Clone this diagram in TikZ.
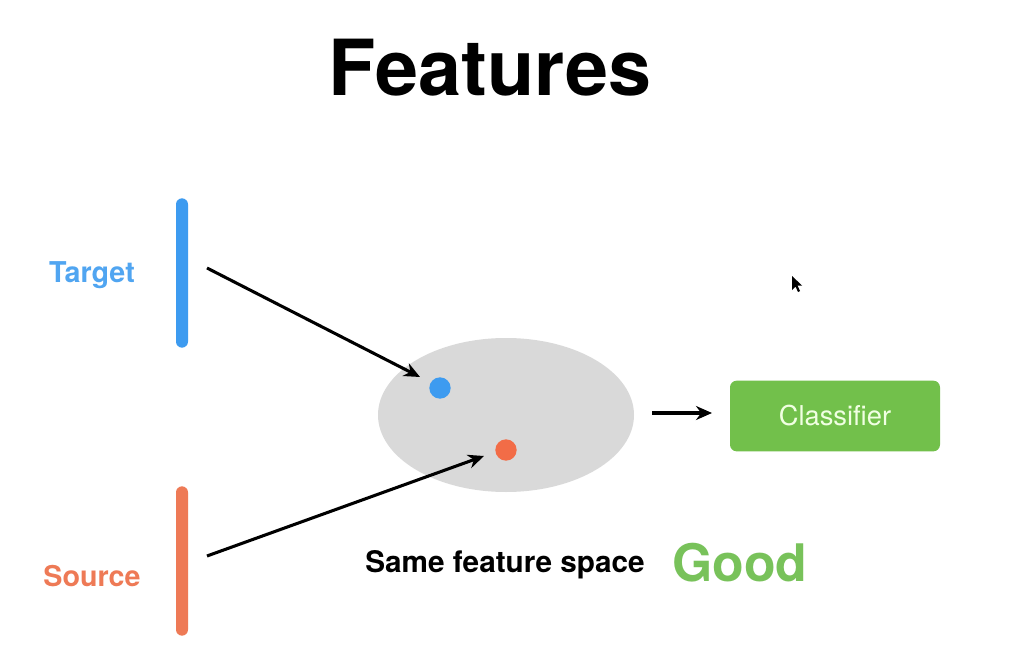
\documentclass[tikz,border=0pt]{standalone}
\usepackage{fontspec}
\setmainfont{TeX Gyre Heros}
\usetikzlibrary{arrows.meta,shapes.geometric}
\definecolor{tblue}{HTML}{3D9BF0}
\definecolor{sorange}{HTML}{EE7A56}
\definecolor{dorange}{HTML}{F26C47}
\definecolor{boxgreen}{HTML}{72C04B}
\definecolor{goodgreen}{HTML}{78C25A}
\definecolor{clstext}{HTML}{F0FFE2}
\definecolor{cloud}{HTML}{D9D9D9}
\tikzset{
  bar/.style={rounded corners=4.5pt, minimum width=9pt, minimum height=112pt, inner sep=0pt},
  lbl/.style={font=\bfseries\fontsize{21.5}{24}\selectfont, inner sep=0pt},
  conn/.style={line width=2.3pt, -{Stealth[length=12pt,width=10.5pt]}},
  dot/.style={circle, minimum size=16pt, inner sep=0pt},
}
\begin{document}
\begin{tikzpicture}[x=0.75pt,y=-0.75pt]
\useasboundingbox[fill=white] (0,0) rectangle (1022,667);
% title
\node[inner sep=0pt, font=\bfseries\fontsize{58}{62}\selectfont] (title) at (490,68) {Features};
% bars and labels
\node[bar, fill=tblue] (tbar) at (182,273) {};
\node[bar, fill=sorange] (sbar) at (182,561) {};
\node[lbl, text=tblue!90!white] (tlbl) at (92,275) {Target};
\node[lbl, text=sorange] (slbl) at (92,576) {Source};
% feature space
\node[ellipse, fill=cloud, minimum width=192pt, minimum height=115.5pt, inner sep=0pt] (space) at (506,415) {};
\node[dot, fill=tblue] (bdot) at (440,388) {};
\node[dot, fill=dorange] (odot) at (506,450) {};
% classifier
\node[rounded corners=5pt, fill=boxgreen, minimum width=157.5pt, minimum height=53pt, inner sep=0pt,
      text=clstext, font=\fontsize{20.5}{22}\selectfont] (cls) at (835,416) {Classifier};
% texts
\node[inner sep=0pt, font=\bfseries\fontsize{22.3}{24}\selectfont] (same) at (505,565) {Same feature space};
\node[inner sep=0pt, text=goodgreen, font=\bfseries\fontsize{38.8}{40}\selectfont] (good) at (740,563) {Good};
% connectors
\coordinate (tstart) at (207,268);
\coordinate (tend) at (420,377);
\coordinate (sstart) at (207,556);
\coordinate (send) at (484,456);
\coordinate (cstart) at (652,413);
\coordinate (cend) at (712,413);
\draw[conn] (tstart) -- (tend);
\draw[conn] (sstart) -- (send);
\draw[conn] (cstart) -- (cend);
% mouse cursor
\fill[black] (792,276) -- (792,290) -- (795.5,286.5) -- (798,292) -- (800,291) -- (797.5,285.5) -- (802,285.5) -- cycle;
\end{tikzpicture}
\end{document}
